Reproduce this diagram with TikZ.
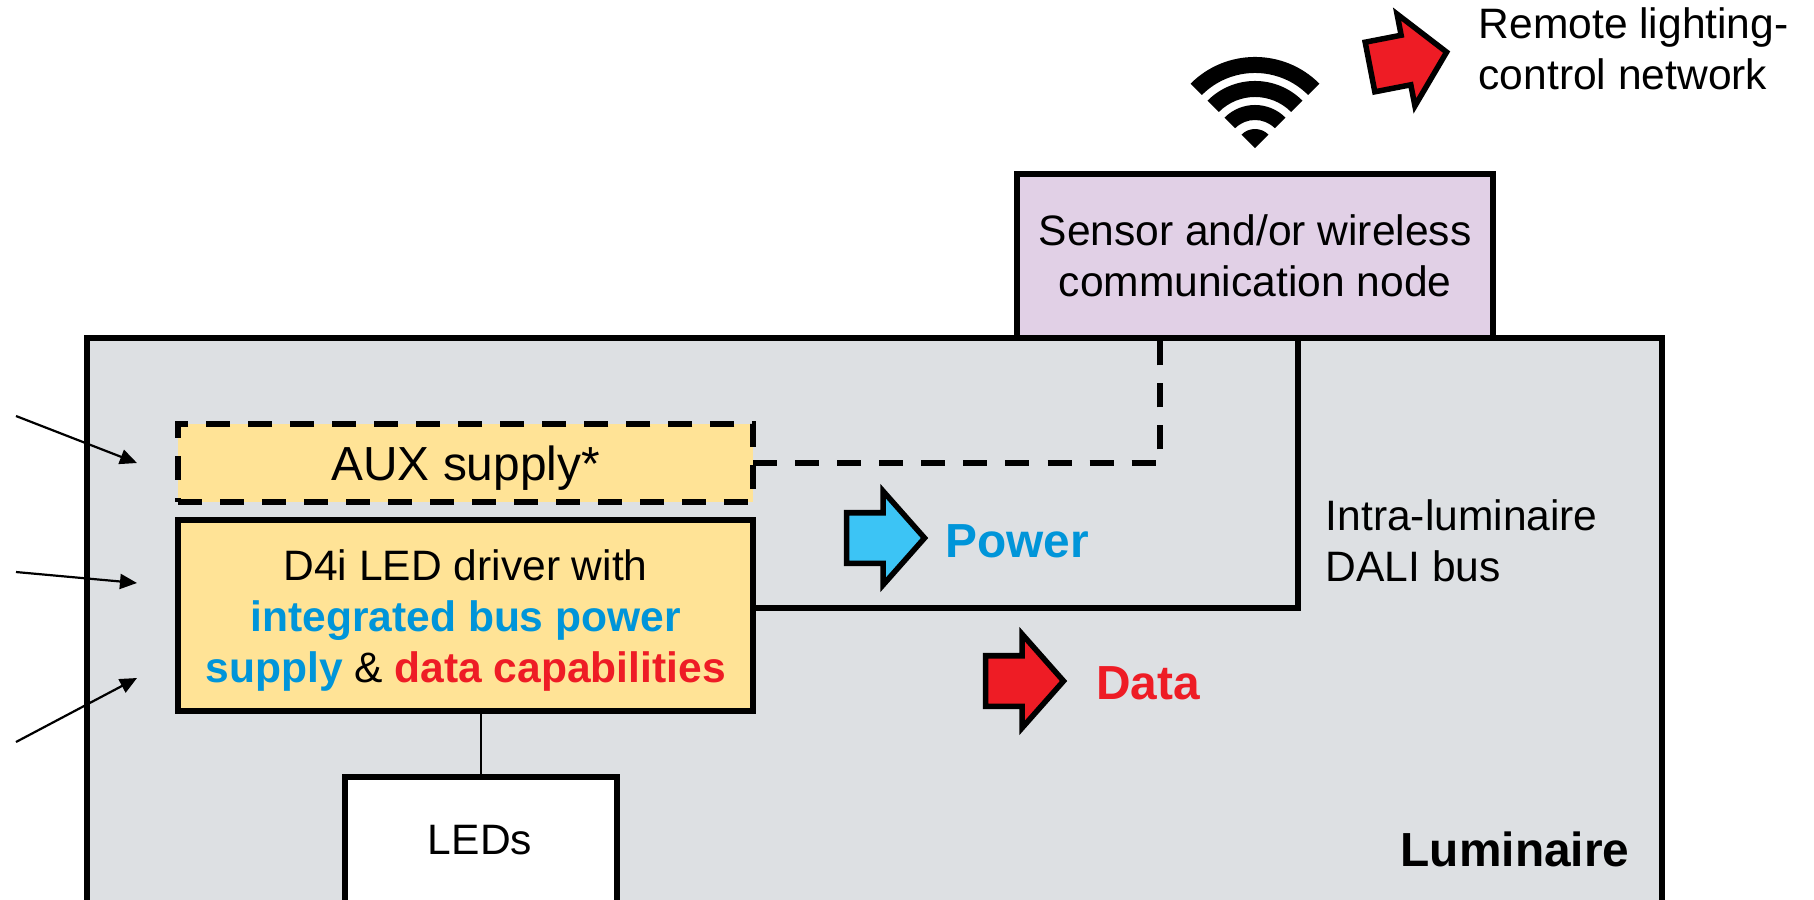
\documentclass[tikz,border=0pt]{standalone}
\usepackage{fontspec}
\setmainfont{Liberation Sans}
\usepackage{xcolor}
\usetikzlibrary{arrows.meta}
\usetikzlibrary{calc}
\usetikzlibrary{positioning}
\usetikzlibrary{shapes.arrows}
\definecolor{lumgrey}{HTML}{DDE0E3}
\definecolor{boxyellow}{HTML}{FFE396}
\definecolor{nodepurple}{HTML}{E1D0E6}
\definecolor{datared}{HTML}{EE1C25}
\definecolor{powerblue}{HTML}{0095D9}
\definecolor{arrowblue}{HTML}{3CC4F5}
\newcommand{\txtsmall}{\fontsize{12.1}{14.5}\selectfont}
\newcommand{\txtbig}{\fontsize{13.6}{16}\selectfont}

\begin{document}
\begin{tikzpicture}[x=.01cm,y=-.01cm,>={Triangle[length=.17cm,width=.15cm]}]
	\tikzstyle{box}=[draw, line width=.06cm, inner sep=0pt, outer sep=0pt, align=center, font=\txtsmall]
	\tikzstyle{bigarrow}=[draw, line width=.055cm, single arrow, inner sep=0pt, outer sep=0pt, text height=.45cm, text depth=0pt, minimum height=.78cm, single arrow head extend=.215cm, single arrow tip angle=97, anchor=tail]
	\tikzstyle{thin}=[line width=.022cm]
	\tikzstyle{bus}=[line width=.065cm]
	\tikzstyle{label}=[inner sep=0pt, align=center, font=\txtsmall]

	\useasboundingbox (0,0) rectangle (1814,899);
	\clip (0,0) rectangle (1814,899);

	\node[box, fill=lumgrey, anchor=north west, minimum width=15.74cm, minimum height=6.5cm] (lum) at (87,338) {};
	\node[box, fill=nodepurple, anchor=south west, minimum width=4.76cm, minimum height=1.635cm] (sensor) at (1017,338) {Sensor and/or wireless\\communication node};
	\node[box, fill=boxyellow, dashed, dash pattern=on .24cm off .18cm, anchor=north west, minimum width=5.75cm, minimum height=.78cm] (aux) at (178,424) {};
	\node[box, fill=boxyellow, minimum width=5.75cm, minimum height=1.91cm] (driver) [below=.18cm of aux.south west, anchor=north west] {};
	\node[box, fill=white, anchor=north west, minimum width=2.72cm, minimum height=1.8cm] (leds) at (345,777) {};
	\node[label, font=\txtbig] (auxtext) [yshift=-.05cm] at (aux.center) {AUX supply*};
	\node[label] (drivertext) [yshift=-.045cm] at (driver.center) {D4i LED driver with\\\textbf{\textcolor{powerblue}{integrated bus power}}\\\textbf{\textcolor{powerblue}{supply}} \& \textbf{\textcolor{datared}{data capabilities}}};
	\node[label] (ledtext) at (480,840) {LEDs};

	\node[bigarrow, fill=arrowblue] (powerarrow) at (846.5,538) {};
	\node[bigarrow, fill=datared] (dataarrow) at (985.5,681) {};
	\node[bigarrow, fill=datared, rotate=11] (netarrow) at (1370,67) {};

	\node[label, font=\txtbig\bfseries, text=powerblue] (power) [right=.2cm of powerarrow.tip, yshift=-.03cm] {Power};
	\node[label, font=\txtbig\bfseries, text=datared] (data) [right=.32cm of dataarrow.tip, yshift=-.02cm] {Data};
	\node[label, anchor=west, align=left] (net) at (1478,49) {Remote lighting-\\control network};
	\node[label, anchor=west, align=left] (dali) at (1325,541) {Intra-luminaire\\DALI bus};
	\node[label, anchor=east, font=\txtbig\bfseries] (lumtext) at (1630,849) {Luminaire};

	\coordinate (dashtop) at (1160,338);
	\coordinate (bustop) at (1298,338);
	\coordinate (busout) at (753,608);
	\coordinate (in1) at (16,416);
	\coordinate (in2) at (16,572);
	\coordinate (in3) at (16,742);
	\coordinate (to1) at (137,463);
	\coordinate (to2) at (137,583);
	\coordinate (to3) at (137,678);
	\coordinate (wifi) at (1255,148);

	\draw[bus, dash pattern=on .24cm off .18cm] (aux.east) -| (dashtop);
	\draw[bus] (busout) -| (bustop);
	\draw[thin] (driver.south -| leds.north) -- (leds.north);

	\path[thin, ->]
		(in1) edge (to1)
		(in2) edge (to2)
		(in3) edge (to3)
		;

	\fill (wifi) ++(45:.75cm) -- ++(45:.16cm) arc[start angle=45, end angle=135, radius=.91cm] -- ++(-45:.16cm) arc[start angle=135, end angle=45, radius=.75cm] -- cycle;
	\fill (wifi) ++(45:.51cm) -- ++(45:.16cm) arc[start angle=45, end angle=135, radius=.67cm] -- ++(-45:.16cm) arc[start angle=135, end angle=45, radius=.51cm] -- cycle;
	\fill (wifi) ++(45:.28cm) -- ++(45:.15cm) arc[start angle=45, end angle=135, radius=.43cm] -- ++(-45:.15cm) arc[start angle=135, end angle=45, radius=.28cm] -- cycle;
	\fill (wifi) -- ++(45:.19cm) arc[start angle=45, end angle=135, radius=.19cm] -- cycle;
\end{tikzpicture}
\end{document}
